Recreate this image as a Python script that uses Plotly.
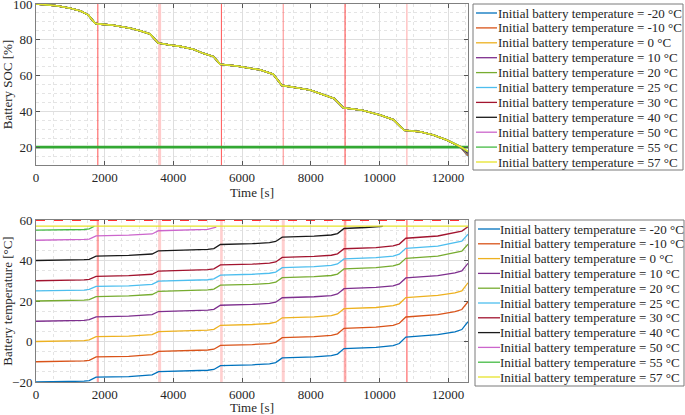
import plotly.graph_objects as go

# ---------------- data ----------------
series_temps = [-20, -10, 0, 10, 20, 25, 30, 40, 50, 55, 57]
series_colors = ["#0072BD", "#D95319", "#EDB120", "#7E2F8E", "#77AC30", "#4DBEEE",
                 "#A2142F", "#1a1a1a", "#CC66CC", "#44BB44", "#E6E32A"]

# SOC curves (all nearly identical; they only split at the very end)
soc_time = [0, 300, 600, 1000, 1300, 1520, 1720, 1800, 2250, 2750, 3030, 3320, 3560, 3900,
            4200, 4580, 4870, 5170, 5360, 5850, 6230, 6520, 6910, 7160, 7590, 7980, 8370,
            8680, 8950, 9500, 10020, 10410, 10720, 11190, 11570, 11960, 12350, 12580]
soc_common = [100, 99.4, 99, 97.6, 96.1, 93.9, 89.2, 88.9, 88.1, 86.4, 85.1, 83.2, 78.2, 77.1,
              76.3, 74.7, 72.4, 70.6, 66.3, 65.3, 64.3, 63.2, 60.7, 54.5, 53.2, 51.9, 49.3,
              47.2, 42.0, 40.6, 38.0, 35.3, 29.4, 28.6, 26.8, 24.0, 20.3, 16.0]
soc_end = [15.0, 15.3, 15.6, 15.9, 16.2, 16.4, 16.6, 16.9, 17.2, 17.4, 17.6]
soc_limit = 20
soc_axis_range = [10, 100]

# battery temperature curves
t_grid = [0, 900, 1400, 1550, 1750, 2700, 3200, 3380, 3570, 4500, 5000, 5180, 5370, 6300,
          6800, 6980, 7170, 8100, 8600, 8780, 8970, 9900, 10400, 10580, 10770, 11700, 12200,
          12400, 12580]
temp_m20 = [-20, -19.9, -19.6, -19.3, -17.6, -17.3, -16.9, -16.5, -14.9, -14.6, -14.2, -13.8,
            -11.9, -11.5, -11.0, -10.4, -8.1, -7.6, -7.0, -6.2, -3.5, -2.9, -2.0, -1.0, 2.2,
            3.4, 4.8, 5.9, 9.8]
temp_m10 = [-10, -9.9, -9.6, -9.3, -7.6, -7.3, -6.9, -6.5, -4.9, -4.6, -4.2, -3.8, -1.9, -1.5,
            -1.0, -0.4, 1.9, 2.4, 3.0, 3.8, 6.5, 7.1, 8.0, 9.0, 12.1, 13.3, 14.7, 15.8, 19.7]
temp_0 = [0, 0.1, 0.4, 0.8, 2.4, 2.7, 3.1, 3.4, 4.9, 5.2, 5.6, 6.0, 8.0, 8.4, 8.9, 9.5, 11.7,
          12.2, 12.8, 13.6, 16.2, 16.8, 17.7, 18.6, 21.7, 22.8, 24.0, 25.0, 29.0]
temp_10 = [10, 10.1, 10.4, 10.8, 12.2, 12.5, 12.9, 13.3, 14.8, 15.1, 15.5, 15.9, 17.9, 18.3,
           18.8, 19.4, 21.6, 22.1, 22.7, 23.5, 26.1, 26.7, 27.5, 28.4, 31.4, 32.5, 33.9, 34.9,
           38.6]
temp_20 = [20, 20.1, 20.4, 20.7, 22.2, 22.5, 22.9, 23.2, 24.8, 25.1, 25.5, 25.9, 27.8, 28.2,
           28.7, 29.3, 31.5, 32.0, 32.6, 33.3, 35.9, 36.5, 37.3, 38.2, 41.1, 42.2, 43.7, 44.6,
           48.0]
temp_25 = [25, 25.1, 25.4, 25.7, 27.2, 27.5, 27.9, 28.2, 29.8, 30.1, 30.5, 30.9, 32.8, 33.2,
           33.7, 34.3, 36.5, 37.0, 37.6, 38.3, 40.8, 41.4, 42.2, 43.1, 46.0, 47.1, 48.6, 49.5,
           53.0]
temp_30 = [30, 30.1, 30.4, 30.7, 32.2, 32.5, 32.9, 33.2, 34.8, 35.1, 35.5, 35.9, 37.8, 38.2,
           38.7, 39.3, 41.5, 42.0, 42.6, 43.3, 45.8, 46.4, 47.2, 48.1, 51.0, 52.1, 53.6, 54.5,
           56.7]
t_40 = [0, 900, 1400, 1550, 1750, 2700, 3200, 3380, 3570, 4500, 5000, 5180, 5370, 6300, 6800,
        6980, 7170, 8100, 8600, 8780, 8970, 9600, 10100]
temp_40 = [40, 40.1, 40.4, 40.6, 42.2, 42.5, 42.9, 43.2, 44.8, 45.1, 45.5, 45.9, 47.9, 48.3,
           48.8, 49.4, 51.5, 52.0, 52.6, 53.3, 55.8, 56.3, 56.9]
t_50 = [0, 900, 1400, 1550, 1750, 2700, 3200, 3380, 3570, 4500, 5000, 5250]
temp_50 = [50, 50.1, 50.4, 50.6, 52.2, 52.5, 52.8, 53.1, 54.7, 55.0, 55.4, 56.5]
t_55 = [0, 900, 1400, 1550, 1700]
temp_55 = [55, 55.1, 55.3, 55.6, 56.9]
t_57 = [0, 12580]
temp_57 = [57, 57]
temp_limit = 60
temp_axis_range = [-20, 60]

cycle_end_s = [1800, 3600, 5400, 7200, 9000, 10800]
x_max = 12580

temp_times = [t_grid, t_grid, t_grid, t_grid, t_grid, t_grid, t_grid, t_40, t_50, t_55, t_57]
temp_values = [temp_m20, temp_m10, temp_0, temp_10, temp_20, temp_25, temp_30, temp_40,
               temp_50, temp_55, temp_57]

# ---------------- layout helpers ----------------
W, H = 685, 415
ML, MR, MT, MB = 36, 217, 4, 33
PW, PH = W - ML - MR, H - MT - MB


def fx(px):
    return (px - ML) / PW


def fy(py):
    return (H - MB - py) / PH


FONT = "Liberation Serif, Tinos, 'Times New Roman', Times, 'DejaVu Serif', serif"
labels = [f"Initial battery temperature = {v} \u00b0C" for v in series_temps]

fig = go.Figure()

# cycle boundary lines (drawn first so the curves lie over them)
top_styles = [("rgba(255,60,60,0.8)", 1.1), ("rgba(255,160,160,0.55)", 3),
              ("rgba(255,60,60,0.8)", 1.1), ("rgba(255,90,90,0.6)", 1.2),
              ("rgba(255,55,55,0.8)", 1.2), ("rgba(255,120,120,0.55)", 1.2)]
bot_styles = [("rgba(255,90,90,0.55)", 2.2), ("rgba(255,160,160,0.5)", 3),
              ("rgba(255,160,160,0.5)", 2.6), ("rgba(255,160,160,0.5)", 3),
              ("rgba(255,100,100,0.55)", 2.6), ("rgba(255,70,70,0.7)", 1.4)]
for k, xv in enumerate(cycle_end_s):
    c, w = top_styles[k]
    fig.add_trace(go.Scatter(x=[xv, xv], y=soc_axis_range, mode="lines",
                             line=dict(color=c, width=w), xaxis="x", yaxis="y",
                             hoverinfo="skip"))
    c, w = bot_styles[k]
    fig.add_trace(go.Scatter(x=[xv, xv], y=temp_axis_range, mode="lines",
                             line=dict(color=c, width=w), xaxis="x2", yaxis="y2",
                             hoverinfo="skip"))

# SOC limit line
fig.add_trace(go.Scatter(x=[0, x_max], y=[soc_limit, soc_limit], mode="lines",
                         line=dict(color="#33A833", width=2.6), xaxis="x", yaxis="y",
                         hoverinfo="skip"))
for i, name in enumerate(labels):
    fig.add_trace(go.Scatter(x=soc_time, y=soc_common[:-1] + [soc_end[i]], mode="lines",
                             line=dict(color=series_colors[i], width=1.6), name=name,
                             xaxis="x", yaxis="y"))

# temperature limit line
fig.add_trace(go.Scatter(x=[0, x_max], y=[temp_limit, temp_limit], mode="lines",
                         line=dict(color="#FF3030", width=2, dash="dash"), xaxis="x2",
                         yaxis="y2", hoverinfo="skip"))
for i, name in enumerate(labels):
    fig.add_trace(go.Scatter(x=temp_times[i], y=temp_values[i], mode="lines",
                             line=dict(color=series_colors[i], width=1.3), name=name,
                             xaxis="x2", yaxis="y2"))

# manual legends
shapes = []
annotations = []
for box_l, box_t, box_r, box_b, row0, step, lx0, lx1, tx in [
        (473, 4, 683, 170, 13, 14.9, 476, 497, 497),
        (475, 220, 684, 386, 229, 14.8, 478, 500, 499)]:
    shapes.append(dict(type="rect", xref="paper", yref="paper", x0=fx(box_l), x1=fx(box_r),
                       y0=fy(box_b), y1=fy(box_t), line=dict(color="#7a7a7a", width=1),
                       fillcolor="white", layer="above"))
    for i, name in enumerate(labels):
        yy = fy(row0 + i * step)
        shapes.append(dict(type="line", xref="paper", yref="paper", x0=fx(lx0), x1=fx(lx1),
                           y0=yy, y1=yy, line=dict(color=series_colors[i], width=1.3),
                           layer="above"))
        annotations.append(dict(text=name, xref="paper", yref="paper", x=fx(tx), y=yy,
                                xanchor="left", yanchor="middle", showarrow=False,
                                borderpad=0,
                                font=dict(family=FONT, size=13, color="#262626")))

axis_common = dict(showline=True, linecolor="#808080", linewidth=1, mirror="ticks",
                   ticks="inside", ticklen=4, tickcolor="#555555", showgrid=True,
                   gridcolor="#dedede", gridwidth=1, zeroline=False, automargin=False,
                   ticklabeloverflow="allow",
                   tickfont=dict(family=FONT, size=13, color="#262626"))

xa = dict(axis_common, range=[0, x_max], tick0=0, dtick=2000, tickformat="d",
          minor=dict(tick0=0, dtick=500, showgrid=True, gridcolor="#e4e4e4", griddash="dot"),
          title=dict(text="Time [s]", standoff=0, font=dict(family=FONT, size=13)))

fig.update_layout(
    width=W, height=H, margin=dict(l=ML, r=MR, t=MT, b=MB),
    plot_bgcolor="white", paper_bgcolor="white", showlegend=False,
    font=dict(family=FONT, size=13, color="#262626"),
    xaxis=dict(xa, anchor="y", domain=[0, 1]),
    yaxis=dict(axis_common, domain=[fy(165), 1], range=soc_axis_range,
               tickvals=[20, 40, 60, 80, 100],
               minor=dict(tick0=0, dtick=5, showgrid=True, gridcolor="#e4e4e4",
                          griddash="dot"),
               title=dict(text="Battery SOC [%]", standoff=4, font=dict(family=FONT, size=13))),
    xaxis2=dict(xa, anchor="y2", domain=[0, 1]),
    yaxis2=dict(axis_common, domain=[0, fy(220)], range=temp_axis_range, tick0=-20, dtick=20,
                layer="below traces",
                minor=dict(tick0=0, dtick=5, showgrid=True, gridcolor="#e4e4e4",
                           griddash="dot"),
                title=dict(text="Battery temperature [\u00b0C]", standoff=4,
                           font=dict(family=FONT, size=13))),
    shapes=shapes, annotations=annotations,
)

fig.write_html("out.html", config={"displayModeBar": False},
               post_script="document.body.style.margin='0px';"
                           "document.body.style.overflow='hidden';")
